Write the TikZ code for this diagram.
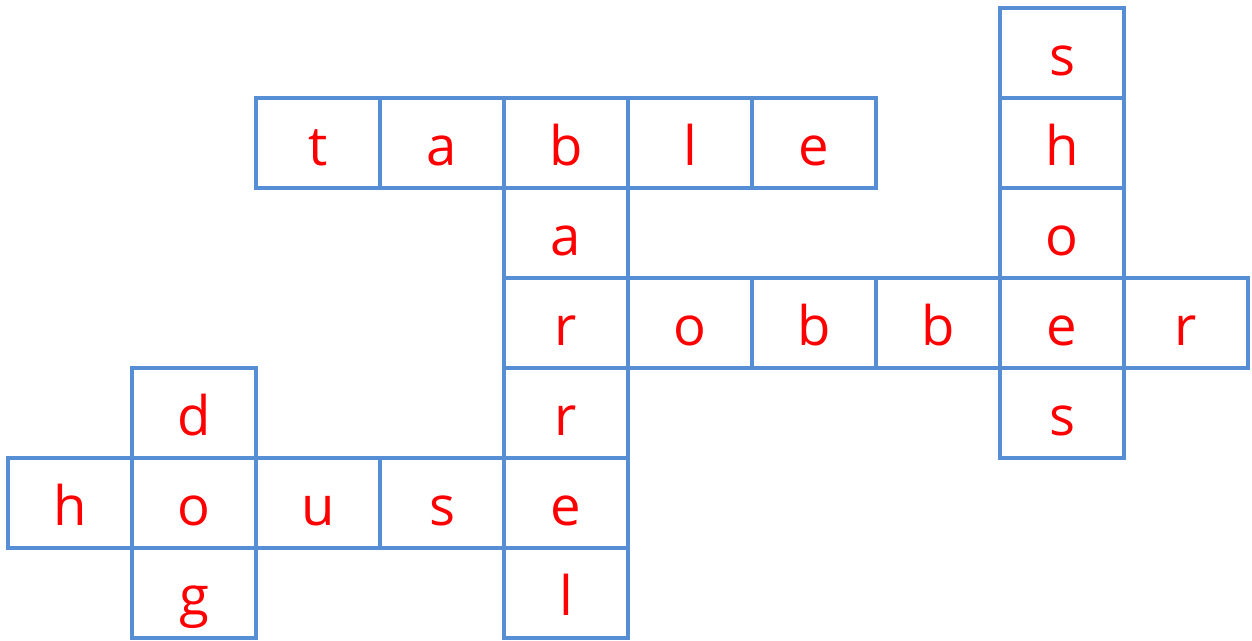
\documentclass[tikz,border=0pt]{standalone}
\usepackage{fontspec}
\setmainfont{Open Sans}
\usepackage{tikz}
\usepackage{xcolor}
\definecolor{gridblue}{RGB}{85,142,213}

\begin{document}
\begin{tikzpicture}[x=0.02cm,y=-0.02cm]
  \tikzset{cwcell/.style={rectangle,draw=gridblue,line width=0.07cm,inner sep=0pt,minimum width=2.48cm,minimum height=1.8cm,text height=1.0cm,text depth=0.12cm,font=\fontsize{31}{36}\selectfont,text=red}}
  \useasboundingbox (0,0) rectangle (1252,640);
  % shoes
  \node[cwcell] (s0) at (1062,53) {s};
  \node[cwcell] (s1) at (1062,143) {h};
  \node[cwcell] (s2) at (1062,233) {o};
  \node[cwcell] (s3) at (1062,323) {e};
  \node[cwcell] (s4) at (1062,413) {s};
  % table
  \node[cwcell] (t0) at (318,143) {t};
  \node[cwcell] (t1) at (442,143) {a};
  \node[cwcell] (t2) at (566,143) {b};
  \node[cwcell] (t3) at (690,143) {l};
  \node[cwcell] (t4) at (814,143) {e};
  % barrel
  \node[cwcell] (b1) at (566,233) {a};
  \node[cwcell] (b2) at (566,323) {r};
  \node[cwcell] (b3) at (566,413) {r};
  \node[cwcell] (b4) at (566,503) {e};
  \node[cwcell] (b5) at (566,593) {l};
  % robber
  \node[cwcell] (r1) at (690,323) {o};
  \node[cwcell] (r2) at (814,323) {b};
  \node[cwcell] (r3) at (938,323) {b};
  \node[cwcell] (r5) at (1186,323) {r};
  % dog
  \node[cwcell] (d0) at (194,413) {d};
  \node[cwcell] (d1) at (194,503) {o};
  \node[cwcell] (d2) at (194,593) {g};
  % house
  \node[cwcell] (h0) at (70,503) {h};
  \node[cwcell] (h2) at (318,503) {u};
  \node[cwcell] (h3) at (442,503) {s};
\end{tikzpicture}
\end{document}
